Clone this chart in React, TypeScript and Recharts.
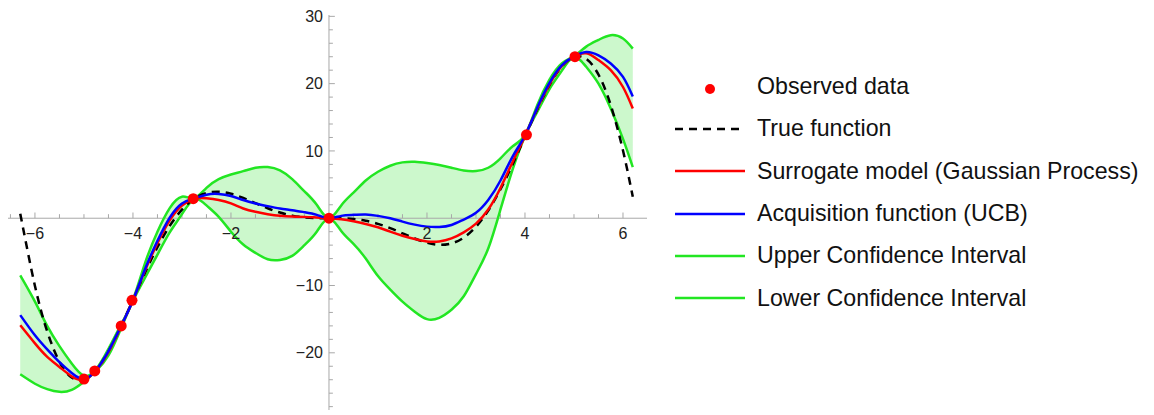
import React from 'react'
import { ComposedChart, Area, Line, Scatter, XAxis, YAxis, ReferenceLine, ReferenceDot } from 'recharts'

// sample positions along x
const xs = [-6.3, -6, -5.75, -5.5, -5.25, -5, -4.75, -4.5, -4.25, -4, -3.75, -3.5, -3.25, -3, -2.75, -2.5, -2.25, -2, -1.75, -1.5, -1.25, -1, -0.75, -0.5, -0.25, 0, 0.25, 0.5, 0.75, 1, 1.25, 1.5, 1.75, 2, 2.25, 2.5, 2.75, 3, 3.25, 3.5, 3.75, 4, 4.25, 4.5, 4.75, 5, 5.25, 5.5, 5.75, 6, 6.2]

const trueFn = [0.67, -10.06, -16.81, -21.34, -23.67, -23.97, -22.55, -19.79, -16.17, -12.11, -8.04, -4.3, -1.14, 1.27, 2.89, 3.74, 3.94, 3.64, 3.01, 2.24, 1.48, 0.84, 0.38, 0.12, 0.02, 0, -0.02, -0.12, -0.38, -0.84, -1.48, -2.24, -3.01, -3.64, -3.94, -3.74, -2.89, -1.27, 1.14, 4.3, 8.04, 12.11, 16.17, 19.79, 22.55, 23.97, 23.67, 21.34, 16.81, 10.06, 3.19]

const surrogate = [-15.9, -18.6, -20.6, -22.1, -23.5, -24.0, -22.6, -19.9, -16.2, -12.2, -7.7, -3.7, -0.3, 1.9, 2.9, 2.95, 2.7, 2.2, 1.45, 0.95, 0.6, 0.35, 0.25, 0.2, 0.1, 0, -0.15, -0.45, -0.85, -1.35, -2.0, -2.6, -3.1, -3.45, -3.45, -3.0, -2.1, -0.8, 1.3, 4.5, 8.4, 12.2, 16.3, 19.9, 22.6, 24.0, 24.5, 23.5, 22.0, 19.5, 16.3]

const ucb = [-14.4, -17.4, -19.5, -21.4, -23.0, -23.9, -22.55, -19.75, -16.15, -12.2, -7.5, -3.35, 0.1, 2.2, 2.95, 3.5, 3.6, 3.3, 2.7, 2.2, 1.8, 1.45, 1.2, 0.9, 0.5, 0, 0.35, 0.5, 0.55, 0.35, 0.0, -0.5, -0.95, -1.25, -1.3, -1.0, -0.2, 0.8, 2.7, 5.6, 9.2, 12.3, 16.4, 20.1, 22.7, 24.05, 24.7, 24.2, 23.0, 21.0, 18.1]

const upperCI = [-8.5, -12.4, -16.0, -19.0, -21.6, -23.4, -22.4, -19.4, -15.9, -12.1, -6.6, -2.0, 1.5, 3.2, 3.0, 4.5, 5.8, 6.5, 7.0, 7.5, 7.6, 7.1, 5.8, 4.0, 2.0, 0, 1.9, 3.8, 5.6, 6.9, 7.8, 8.3, 8.4, 8.2, 7.9, 7.5, 7.1, 7.0, 7.5, 8.9, 10.7, 12.4, 16.8, 20.6, 23.0, 24.1, 25.5, 26.5, 27.2, 26.7, 25.2]

const lowerCI = [-23.2, -24.6, -25.4, -25.8, -25.5, -24.3, -22.7, -20.4, -16.5, -12.3, -8.8, -5.4, -2.1, 0.6, 2.8, 1.9, 0.2, -2.0, -3.9, -5.15, -6.1, -6.2, -5.6, -4.0, -2.0, 0, -1.9, -3.8, -6.0, -8.6, -10.6, -12.4, -13.9, -15.0, -14.8, -13.6, -11.6, -8.3, -4.5, 1.3, 7.3, 12.2, 15.8, 19.2, 21.9, 23.9, 22.5, 20.0, 16.3, 11.8, 7.6]

const obsX = [-5.0, -4.78, -4.24, -4.02, -2.77, 0, 4.03, 5.02]
const obsY = [-23.9, -22.7, -16.0, -12.2, 2.9, 0, 12.4, 24.0]

const xLabelTicks = [-6, -4, -2, 2, 4, 6]
const yLabelTicks = [-20, -10, 10, 20, 30]

const data = xs.map((x, i) => ({
  x,
  truth: trueFn[i],
  mean: surrogate[i],
  ucb: ucb[i],
  upper: upperCI[i],
  lower: lowerCI[i],
}))
const observed = obsX.map((x, i) => ({ x, y: obsY[i] }))

// minor ticks every 0.5 on x, every 2 on y
const xMinor: number[] = []
for (let t = -6.5; t <= 6.5; t += 0.5) if (t !== 0) xMinor.push(t)
const yMinor: number[] = []
for (let t = -28; t <= 30; t += 2) if (t !== 0) yMinor.push(t)

const AXIS = '#a8a8a8'
const GREEN = '#22e622'
const FONT = '"Liberation Sans", Arial, sans-serif'

const legendItems = [
  { label: 'Observed data', kind: 'dot', color: '#ff0000' },
  { label: 'True function', kind: 'dash', color: '#000000' },
  { label: 'Surrogate model (Gaussian Process)', kind: 'line', color: '#ff0000' },
  { label: 'Acquisition function (UCB)', kind: 'line', color: '#0000ff' },
  { label: 'Upper Confidence Interval', kind: 'line', color: GREEN },
  { label: 'Lower Confidence Interval', kind: 'line', color: GREEN },
]

const fmt = (t: number) => (t < 0 ? '\u2212' + Math.abs(t) : String(t))

function ChartLegend() {
  return (
    <div style={{ position: 'absolute', left: 675, top: 65.5, fontFamily: FONT, fontSize: 23.2, color: '#111' }}>
      {legendItems.map((it) => (
        <div key={it.label} style={{ display: 'flex', alignItems: 'center', height: 42.3 }}>
          <svg width={82} height={20} style={{ flex: 'none' }}>
            {it.kind === 'dot' && <circle cx={35} cy={12} r={5} fill={it.color} />}
            {it.kind === 'dash' && <line x1={0} x2={70} y1={10} y2={10} stroke={it.color} strokeWidth={2.5} strokeDasharray="8 6" />}
            {it.kind === 'line' && <line x1={0} x2={70} y1={10} y2={10} stroke={it.color} strokeWidth={2.5} />}
          </svg>
          <span style={{ whiteSpace: 'nowrap' }}>{it.label}</span>
        </div>
      ))}
    </div>
  )
}

export default function App() {
  return (
    <div style={{ position: 'absolute', left: 0, top: 0, width: 1154, height: 415, background: '#fff' }}>
      <ComposedChart width={1154} height={415} data={data} margin={{ top: 15, right: 507, bottom: 5, left: 8 }}>
        <XAxis hide type="number" dataKey="x" domain={[-6.55, 6.49]} allowDataOverflow />
        <YAxis hide type="number" domain={[-28.5, 30.2]} allowDataOverflow />

        <Area
          dataKey={(d: any) => [d.lower, d.upper]}
          type="natural"
          stroke="none"
          fill="#ccf8cc"
          fillOpacity={1}
          isAnimationActive={false}
        />

        <ReferenceLine y={0} stroke={AXIS} strokeWidth={1} />
        <ReferenceLine x={0} stroke={AXIS} strokeWidth={1} />
        {xMinor.map((t) => (
          <ReferenceLine key={'xt' + t} segment={[{ x: t, y: 0 }, { x: t, y: t % 2 === 0 ? 0.85 : 0.6 }]} stroke={AXIS} />
        ))}
        {yMinor.map((t) => (
          <ReferenceLine key={'yt' + t} segment={[{ x: 0, y: t }, { x: t % 10 === 0 ? 0.12 : 0.08, y: t }]} stroke={AXIS} />
        ))}
        {xLabelTicks.map((t) => (
          <ReferenceDot
            key={'xl' + t}
            x={t}
            y={0}
            r={0}
            fill="none"
            stroke="none"
            label={{ value: fmt(t), position: 'bottom', offset: 9, fontSize: 16, fill: '#222', fontFamily: FONT }}
          />
        ))}
        {yLabelTicks.map((t) => (
          <ReferenceDot
            key={'yl' + t}
            x={0}
            y={t}
            r={0}
            fill="none"
            stroke="none"
            label={{ value: fmt(t), position: 'left', offset: 6, fontSize: 16, fill: '#222', fontFamily: FONT }}
          />
        ))}

        <Line dataKey="upper" type="natural" stroke={GREEN} strokeWidth={2.5} dot={false} isAnimationActive={false} />
        <Line dataKey="lower" type="natural" stroke={GREEN} strokeWidth={2.5} dot={false} isAnimationActive={false} />
        <Line dataKey="truth" type="natural" stroke="#000" strokeWidth={2.5} strokeDasharray="8 6" dot={false} isAnimationActive={false} />
        <Line dataKey="mean" type="natural" stroke="#ff0000" strokeWidth={2.5} dot={false} isAnimationActive={false} />
        <Line dataKey="ucb" type="natural" stroke="#0000ff" strokeWidth={2.5} dot={false} isAnimationActive={false} />
        <Scatter
          data={observed}
          dataKey="y"
          isAnimationActive={false}
          shape={(p: any) => <circle cx={p.cx} cy={p.cy} r={5.5} fill="#ff0000" />}
        />
      </ComposedChart>
      <ChartLegend />
    </div>
  )
}
